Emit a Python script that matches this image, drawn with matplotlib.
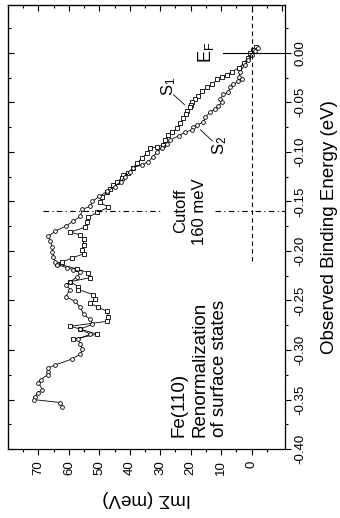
import numpy as np
import matplotlib
matplotlib.use("Agg")
import matplotlib.pyplot as plt
from matplotlib.ticker import FixedLocator

plt.rcParams['font.family'] = ['Liberation Sans', 'DejaVu Sans']
plt.rcParams['mathtext.default'] = 'regular'

# S1 (squares): binding energy (eV) and Im Sigma (meV)
e1 = [0.006, 0.003, 0.000, -0.005, -0.010, -0.015, -0.019, -0.022, -0.024, -0.027,
      -0.032, -0.035, -0.039, -0.044, -0.047, -0.050, -0.053, -0.055, -0.059, -0.062,
      -0.066, -0.071, -0.076, -0.080, -0.083, -0.088, -0.093, -0.095, -0.096, -0.101,
      -0.106, -0.111, -0.116, -0.121, -0.123, -0.126, -0.130, -0.133, -0.138, -0.141,
      -0.146, -0.151, -0.156, -0.161, -0.166, -0.171, -0.176, -0.181, -0.184, -0.188,
      -0.194, -0.199, -0.203, -0.207, -0.211, -0.213, -0.218, -0.222, -0.227, -0.231,
      -0.236, -0.239, -0.244, -0.249, -0.253, -0.257, -0.261, -0.267, -0.271, -0.276,
      -0.279, -0.284, -0.289]
im1 = [-1.5, -0.5, 0.5, 1.1, 2.5, 4.0, 6.4, 8.0, 9.7, 11.3,
       13.0, 14.6, 16.2, 17.5, 18.5, 19.5, 19.8, 20.2, 21.1, 21.5,
       22.5, 23.4, 24.4, 26.0, 27.4, 28.4, 29.0, 31.0, 33.3, 34.3,
       35.9, 37.5, 38.9, 40.5, 42.1, 42.5, 44.1, 45.4, 46.4, 47.4,
       49.0, 49.7, 47.0, 50.7, 53.6, 53.9, 54.6, 59.5, 56.2, 55.2,
       55.2, 55.6, 55.2, 58.9, 62.1, 63.8, 57.5, 53.6, 53.0, 59.5,
       57.0, 56.9, 52.0, 51.3, 53.0, 50.3, 47.4, 47.0, 47.4, 59.5,
       56.2, 50.7, 58.5]

# S2 (circles)
e2 = [0.005, 0.002, -0.002, -0.007, -0.012, -0.019, -0.024, -0.027, -0.029, -0.032,
      -0.035, -0.040, -0.042, -0.047, -0.050, -0.054, -0.057, -0.060, -0.065, -0.070,
      -0.073, -0.075, -0.078, -0.080, -0.084, -0.088, -0.092, -0.096, -0.100, -0.105,
      -0.110, -0.113, -0.116, -0.120, -0.125, -0.130, -0.135, -0.140, -0.145, -0.150,
      -0.155, -0.158, -0.165, -0.170, -0.175, -0.180, -0.185, -0.190, -0.196, -0.201,
      -0.206, -0.211, -0.214, -0.217, -0.219, -0.221, -0.226, -0.231, -0.234, -0.239,
      -0.246, -0.251, -0.257, -0.264, -0.269, -0.274, -0.279, -0.284, -0.289, -0.294,
      -0.299, -0.304, -0.309, -0.315, -0.318, -0.322, -0.325, -0.330, -0.333, -0.340,
      -0.343, -0.347, -0.350, -0.353, -0.358]
im2 = [-2.0, -1.0, 0.0, 1.1, 2.1, 3.8, 4.1, 3.1, 4.4, 6.1,
       7.0, 7.7, 9.3, 10.3, 9.7, 11.0, 12.0, 13.6, 15.2, 15.9,
       17.9, 19.2, 19.5, 21.8, 24.0, 26.7, 27.7, 29.3, 31.0, 32.3,
       33.9, 35.9, 38.9, 39.8, 41.5, 43.0, 45.0, 47.5, 50.0, 52.3,
       53.0, 55.6, 56.2, 58.5, 61.1, 64.4, 66.7, 66.1, 65.4, 65.4,
       65.1, 64.4, 63.8, 60.5, 58.5, 56.2, 57.2, 59.5, 61.1, 59.5,
       61.1, 57.9, 56.2, 55.2, 53.0, 52.3, 56.2, 53.0, 57.0, 56.2,
       55.6, 56.2, 58.9, 64.4, 66.7, 67.0, 67.0, 69.3, 70.0, 68.7,
       70.3, 71.0, 71.6, 62.8, 62.1]

im_ticks = [70, 60, 50, 40, 30, 20, 10, 0]
e_ticks = [0.00, -0.05, -0.10, -0.15, -0.20, -0.25, -0.30, -0.35, -0.40]
cutoff = -0.16

fig = plt.figure(figsize=(3.4, 5.18), dpi=100)
ax = fig.add_axes([0.0235, 0.133, 0.815, 0.857])

mk = dict(color='black', lw=0.6, mfc='white', mec='black', mew=0.6, ms=2.7)
ax.plot(im1, e1, marker='s', **mk)
ax.plot(im2, e2, marker='o', **mk)

ax.set_xlim(80, -11)
ax.set_ylim(-0.40, 0.048)

# reference lines
ax.plot([0, 0], [-0.21, 0.048], color='black', lw=0.8, ls=(0, (4, 3)))
ax.plot([68.4, 30], [cutoff, cutoff], color='black', lw=0.8, ls=(0, (5, 3, 1, 3)))
ax.plot([12, -11], [cutoff, cutoff], color='black', lw=0.8, ls=(0, (5, 3, 1, 3)))
ax.plot([9.5, -11], [0, 0], color='black', lw=0.8)

# annotations
ax.text(15.0, 0.0, 'E$_F$', rotation=90, ha='center', va='center', fontsize=13)
ax.text(27.3, -0.034, 'S$_1$', rotation=90, ha='center', va='center', fontsize=12)
ax.plot([25.6, 22.0], [-0.0424, -0.0525], color='black', lw=0.6)
ax.text(10.6, -0.094, 'S$_2$', rotation=90, ha='center', va='center', fontsize=12)
ax.plot([16.8, 12.9], [-0.0778, -0.0889], color='black', lw=0.6)
ax.text(20.1, cutoff, 'Cutoff\n160 meV', rotation=90, ha='center', va='center',
        fontsize=12, linespacing=1.3, multialignment='center')
ax.text(17.1, -0.388, 'Fe(110)\nRenormalization\nof surface states', rotation=90,
        ha='center', va='bottom', fontsize=13.5, linespacing=1.25, multialignment='left')

# bottom axis: Im Sigma, ticks outward
ax.xaxis.set_major_locator(FixedLocator(im_ticks))
ax.xaxis.set_minor_locator(FixedLocator([75, 65, 55, 45, 35, 25, 15, 5, -5]))
ax.tick_params(axis='x', which='major', direction='out', length=4, width=0.8,
               labelsize=9.5, labelrotation=90, pad=4)
ax.tick_params(axis='x', which='minor', direction='out', length=2.5, width=0.8)
ax.set_xlabel('ImΣ (meV)', fontsize=13.5, rotation=180, labelpad=11)

# right axis: energy, ticks outward
ax.yaxis.tick_right()
ax.yaxis.set_label_position('right')
ax.yaxis.set_major_locator(FixedLocator(e_ticks))
ax.yaxis.set_minor_locator(FixedLocator(np.arange(0.025, -0.4, -0.05)))
ax.set_yticklabels(['%.2f' % v if v != 0 else '0.00' for v in e_ticks])
ax.tick_params(axis='y', which='major', direction='out', length=4, width=0.8,
               labelsize=9.5, labelrotation=90, pad=3)
ax.tick_params(axis='y', which='minor', direction='out', length=2.5, width=0.8)
for lab in ax.get_yticklabels():
    lab.set_va('center')
ax.set_ylabel('Observed Binding Energy (eV)', fontsize=13.5, rotation=90, labelpad=10)

# mirrored ticks pointing inward on top and left
top = ax.secondary_xaxis('top')
top.xaxis.set_major_locator(FixedLocator([80, 70, 60, 50, 40, 30, 20, 10, 0, -10]))
top.xaxis.set_minor_locator(FixedLocator([75, 65, 55, 45, 35, 25, 15, 5, -5]))
top.tick_params(which='major', direction='in', length=4, width=0.8, labeltop=False)
top.tick_params(which='minor', direction='in', length=2.5, width=0.8)
left = ax.secondary_yaxis('left')
left.yaxis.set_major_locator(FixedLocator(e_ticks))
left.yaxis.set_minor_locator(FixedLocator(np.arange(0.025, -0.4, -0.05)))
left.tick_params(which='major', direction='in', length=4, width=0.8, labelleft=False)
left.tick_params(which='minor', direction='in', length=2.5, width=0.8)

for s in ax.spines.values():
    s.set_linewidth(0.9)

fig.savefig('out.png', dpi=100)
